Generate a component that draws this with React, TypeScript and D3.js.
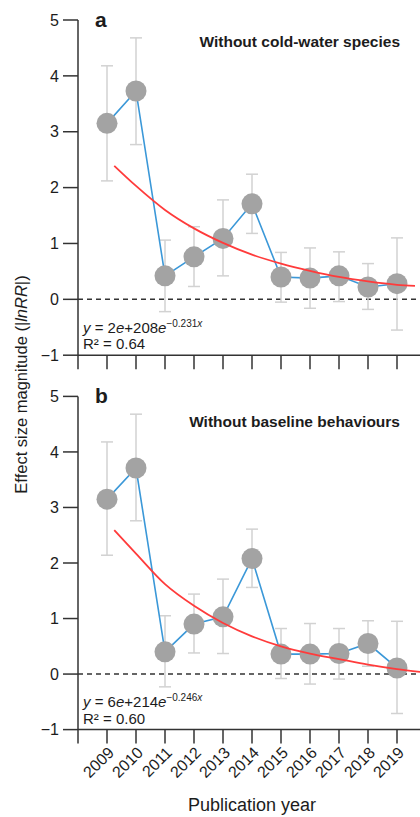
import React, { useEffect, useRef } from 'react';
import * as d3 from 'd3';

// publication years on the x axis
const years = [2009, 2010, 2011, 2012, 2013, 2014, 2015, 2016, 2017, 2018, 2019];

// panel a: without cold-water species
const meanA = [3.15, 3.73, 0.42, 0.76, 1.09, 1.71, 0.40, 0.38, 0.42, 0.22, 0.28];
const upperA = [4.18, 4.68, 1.06, 1.30, 1.78, 2.24, 0.84, 0.92, 0.85, 0.64, 1.10];
const lowerA = [2.12, 2.77, -0.22, 0.23, 0.42, 1.18, -0.05, -0.16, -0.04, -0.18, -0.55];
const fitYearsA = [2009.25, 2010, 2011, 2012, 2013, 2014, 2015, 2016, 2017, 2018, 2019, 2019.62];
const fitA = [2.39, 2.03, 1.60, 1.27, 1.01, 0.80, 0.64, 0.51, 0.40, 0.32, 0.26, 0.24];

// panel b: without baseline behaviours
const meanB = [3.15, 3.71, 0.40, 0.90, 1.03, 2.08, 0.36, 0.36, 0.37, 0.55, 0.11];
const upperB = [4.18, 4.68, 1.05, 1.44, 1.71, 2.61, 0.82, 0.91, 0.82, 0.96, 0.95];
const lowerB = [2.14, 2.76, -0.23, 0.38, 0.37, 1.56, -0.08, -0.18, -0.09, 0.14, -0.71];
const fitYearsB = [2009.25, 2010, 2011, 2012, 2013, 2014, 2015, 2016, 2017, 2018, 2019, 2019.8];
const fitB = [2.59, 2.17, 1.62, 1.23, 0.92, 0.68, 0.50, 0.37, 0.27, 0.17, 0.09, 0.04];

const yTicks = [-1, 0, 1, 2, 3, 4, 5];
const xTicks = [2008, 2009, 2010, 2011, 2012, 2013, 2014, 2015, 2016, 2017, 2018, 2019];

const panels = [
  { letter: 'a', title: 'Without cold-water species', mean: meanA, upper: upperA, lower: lowerA,
    fitX: fitYearsA, fitY: fitA, coef: '2', mult: '208', rate: '\u22120.231', r2: '0.64' },
  { letter: 'b', title: 'Without baseline behaviours', mean: meanB, upper: upperB, lower: lowerB,
    fitX: fitYearsB, fitY: fitB, coef: '6', mult: '214', rate: '\u22120.246', r2: '0.60' },
];

// pixel layout of each panel
const layout = [
  { top: 20, bottom: 355.2, titleY: 46.7 },
  { top: 396.4, bottom: 729.6, titleY: 426.5 },
];

const FONT = '"Liberation Sans", Arial, Helvetica, sans-serif';
const INK = '#1c1c1c';

const App = () => {
  const svgRef = useRef(null);

  useEffect(() => {
    const svg = d3.select(svgRef.current);
    svg.selectAll('*').remove();

    const x = d3.scaleLinear().domain([2008, 2019]).range([78, 397]);
    const xRight = 420;

    panels.forEach((p, i) => {
      const L = layout[i];
      const y = d3.scaleLinear().domain([-1, 5]).range([L.bottom, L.top]);
      const g = svg.append('g');

      // y axis
      g.append('line')
        .attr('x1', x(2008)).attr('x2', x(2008))
        .attr('y1', y(5)).attr('y2', y(-1))
        .attr('stroke', '#333').attr('stroke-width', 1.5);
      yTicks.forEach(t => {
        g.append('line')
          .attr('x1', x(2008) - 15).attr('x2', x(2008))
          .attr('y1', y(t)).attr('y2', y(t))
          .attr('stroke', '#333').attr('stroke-width', 1.5);
        g.append('text')
          .attr('x', x(2008) - 19).attr('y', y(t)).attr('dy', '0.36em')
          .attr('text-anchor', 'end')
          .attr('font-family', FONT).attr('font-size', 16).attr('fill', INK)
          .text(t < 0 ? '\u2212' + Math.abs(t) : String(t));
      });

      // x axis
      g.append('line')
        .attr('x1', x(2008)).attr('x2', xRight)
        .attr('y1', y(-1)).attr('y2', y(-1))
        .attr('stroke', '#333').attr('stroke-width', 1.5);
      xTicks.forEach(t => {
        g.append('line')
          .attr('x1', x(t)).attr('x2', x(t))
          .attr('y1', y(-1)).attr('y2', y(-1) + 14)
          .attr('stroke', '#333').attr('stroke-width', 1.5);
      });

      // zero line
      g.append('line')
        .attr('x1', x(2008)).attr('x2', xRight)
        .attr('y1', y(0)).attr('y2', y(0))
        .attr('stroke', '#333').attr('stroke-width', 1.5)
        .attr('stroke-dasharray', '5,4');

      // error bars
      years.forEach((yr, j) => {
        const cx = x(yr);
        g.append('line')
          .attr('x1', cx).attr('x2', cx)
          .attr('y1', y(p.upper[j])).attr('y2', y(p.lower[j]))
          .attr('stroke', '#d2d2d2').attr('stroke-width', 1.5);
        [p.upper[j], p.lower[j]].forEach(v => {
          g.append('line')
            .attr('x1', cx - 6).attr('x2', cx + 6)
            .attr('y1', y(v)).attr('y2', y(v))
            .attr('stroke', '#d2d2d2').attr('stroke-width', 1.5);
        });
      });

      // connecting line
      const line = d3.line<number>()
        .x((_, j) => x(years[j]))
        .y(d => y(d));
      g.append('path')
        .attr('d', line(p.mean))
        .attr('fill', 'none')
        .attr('stroke', '#3b98d8')
        .attr('stroke-width', 1.6);

      // points
      g.selectAll('.pt')
        .data(p.mean)
        .enter()
        .append('circle')
        .attr('cx', (_, j) => x(years[j]))
        .attr('cy', d => y(d))
        .attr('r', 10.5)
        .attr('fill', '#a3a3a3');

      // fitted curve
      const fit = d3.line<number>()
        .x((_, j) => x(p.fitX[j]))
        .y(d => y(d))
        .curve(d3.curveMonotoneX);
      g.append('path')
        .attr('d', fit(p.fitY))
        .attr('fill', 'none')
        .attr('stroke', '#ff3b3b')
        .attr('stroke-width', 1.8);

      // panel letter and title
      g.append('text')
        .attr('x', 95).attr('y', L.top + 6.7)
        .attr('font-family', FONT).attr('font-size', 21).attr('font-weight', 'bold')
        .attr('fill', INK)
        .text(p.letter);
      g.append('text')
        .attr('x', 400).attr('y', L.titleY)
        .attr('text-anchor', 'end')
        .attr('font-family', FONT).attr('font-size', 15.5).attr('font-weight', 'bold')
        .attr('fill', INK)
        .text(p.title);

      // equation
      const eq = g.append('text')
        .attr('x', 83).attr('y', y(-1) - 22.5)
        .attr('font-family', FONT).attr('font-size', 15).attr('fill', INK);
      eq.append('tspan').attr('font-style', 'italic').text('y');
      eq.append('tspan').text(` = ${p.coef}`);
      eq.append('tspan').attr('font-style', 'italic').text('e');
      eq.append('tspan').text(`+${p.mult}`);
      eq.append('tspan').attr('font-style', 'italic').text('e');
      eq.append('tspan').attr('font-size', 10).attr('dy', -6).text(p.rate);
      eq.append('tspan').attr('font-size', 10).attr('font-style', 'italic').text('x');

      g.append('text')
        .attr('x', 83).attr('y', y(-1) - 6)
        .attr('font-family', FONT).attr('font-size', 15).attr('fill', INK)
        .text(`R\u00b2 = ${p.r2}`);

      // year labels only on the bottom panel
      if (i === panels.length - 1) {
        years.forEach(yr => {
          g.append('text')
            .attr('transform', `translate(${x(yr) + 8},${y(-1) + 24}) rotate(-45)`)
            .attr('text-anchor', 'end')
            .attr('font-family', FONT).attr('font-size', 16).attr('fill', INK)
            .text(String(yr));
        });
      }
    });

    // shared y label
    const yl = svg.append('text')
      .attr('transform', 'translate(27,384.5) rotate(-90)')
      .attr('text-anchor', 'middle')
      .attr('font-family', FONT).attr('font-size', 16.5).attr('fill', INK);
    yl.append('tspan').text('Effect size magnitude (|');
    yl.append('tspan').attr('font-style', 'italic').text('lnRR');
    yl.append('tspan').text('|)');

    svg.append('text')
      .attr('x', 252).attr('y', 811)
      .attr('text-anchor', 'middle')
      .attr('font-family', FONT).attr('font-size', 18).attr('fill', INK)
      .text('Publication year');
  }, []);

  return (
    <svg ref={svgRef} width={420} height={817}
      style={{ position: 'absolute', left: 0, top: 0, background: '#fff' }}></svg>
  );
};

export default App;
